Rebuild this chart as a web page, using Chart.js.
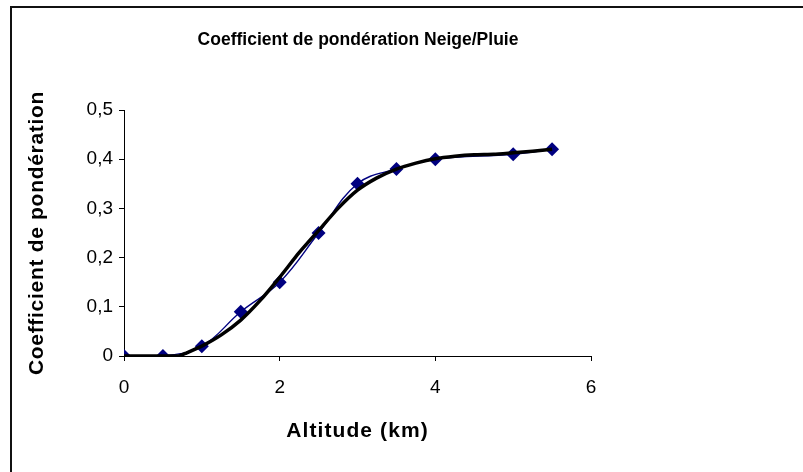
<!DOCTYPE html>
<html lang="fr">
<head>
<meta charset="utf-8">
<title>Coefficient de pondération Neige/Pluie</title>
<script src="https://cdn.jsdelivr.net/npm/chart.js@4/dist/chart.umd.min.js"></script>
<style>
  html, body { margin: 0; padding: 0; background: #fff; overflow: hidden; }
  #wrap { position: relative; width: 803px; height: 472px; }
  #frame { position: absolute; left: 10px; top: 6px; width: 900px; height: 600px;
           border-top: 2px solid #111; border-left: 2px solid #111; pointer-events: none; }
  canvas { position: absolute; left: 0; top: 0; }
</style>
</head>
<body>
<div id="wrap">
  <canvas id="c" width="803" height="472"></canvas>
  <div id="frame"></div>
</div>
<script>
// Measured points: altitude (km) and weighting coefficient
const altitudes = [0, 0.5, 1, 1.5, 2, 2.5, 3, 3.5, 4, 5, 5.5];
const coefficients = [0, 0, 0.02, 0.09, 0.15, 0.25, 0.35, 0.38, 0.40, 0.41, 0.42];

// Fitted curve
const fitAltitudes = [0, 0.25, 0.5, 0.7, 0.8, 1.0, 1.25, 1.5, 1.75, 2.0, 2.25, 2.5, 2.75, 3.0, 3.25, 3.5, 3.75, 4.0, 4.25, 4.5, 4.75, 5.0, 5.25, 5.5];
const fitCoefficients = [0, 0, 0, 0, 0.006, 0.02, 0.043, 0.073, 0.113, 0.16, 0.21, 0.255, 0.3, 0.337, 0.362, 0.38, 0.392, 0.401, 0.406, 0.409, 0.41, 0.413, 0.416, 0.42];

// Axis tick labels (French decimal comma)
const xTickLabels = ['0', '2', '4', '6'];
const yTickLabels = ['0', '0,1', '0,2', '0,3', '0,4', '0,5'];

const FONT = "'Liberation Sans', Arial, sans-serif";

const measured = altitudes.map((x, i) => ({ x, y: coefficients[i] }));
const fitted = fitAltitudes.map((x, i) => ({ x, y: fitCoefficients[i] }));

// Axis titles are drawn slightly letter-spaced
const titleSpacing = { x: '1.1px', y: '0.7px' };
const spacedAxisTitles = {
  id: 'spacedAxisTitles',
  afterLayout(chart) {
    Object.values(chart.scales).forEach((scale) => {
      if (scale._spacedTitle || !titleSpacing[scale.id]) return;
      const original = scale.drawTitle;
      scale.drawTitle = function () {
        const ctx = this.ctx;
        ctx.save();
        ctx.letterSpacing = titleSpacing[this.id];
        original.call(this);
        ctx.restore();
      };
      scale._spacedTitle = true;
    });
  }
};

new Chart(document.getElementById('c'), {
  type: 'line',
  plugins: [spacedAxisTitles],
  data: {
    datasets: [
      {
        label: 'Ajustement',
        data: fitted,
        borderColor: '#000',
        borderWidth: 3.5,
        pointRadius: 0,
        tension: 0.2,
        fill: false,
        order: 0
      },
      {
        label: 'Mesures',
        data: measured,
        borderColor: '#000080',
        backgroundColor: '#000080',
        borderWidth: 1.4,
        pointStyle: 'rectRot',
        pointRadius: 7,
        pointBorderWidth: 0,
        tension: 0.4,
        fill: false,
        order: 1
      }
    ]
  },
  options: {
    responsive: false,
    animation: false,
    layout: { padding: { left: 0, right: 87, top: 0, bottom: 0 } },
    plugins: {
      legend: { display: false },
      tooltip: { enabled: false },
      title: {
        display: true,
        text: 'Coefficient de pondération Neige/Pluie',
        color: '#000',
        font: { family: FONT, size: 17.5, weight: 'bold' },
        padding: { top: 29.5, bottom: 59.5 }
      }
    },
    scales: {
      x: {
        type: 'linear',
        min: 0,
        max: 6,
        ticks: {
          stepSize: 2,
          color: '#000',
          padding: 15,
          font: { family: FONT, size: 19 },
          callback: (v) => xTickLabels[Math.round(v / 2)]
        },
        grid: { drawOnChartArea: false, drawTicks: true, tickLength: 5, color: '#000', lineWidth: 1 },
        border: { display: true, color: '#000', width: 1 },
        title: {
          display: true,
          text: 'Altitude (km)',
          color: '#000',
          font: { family: FONT, size: 21, weight: 'bold' },
          padding: { top: 0, bottom: 28.4 }
        },
        afterFit: (s) => { s.height = 116; }
      },
      y: {
        min: 0,
        max: 0.5,
        ticks: {
          stepSize: 0.1,
          color: '#000',
          padding: 6,
          font: { family: FONT, size: 19 },
          callback: (v) => yTickLabels[Math.round(v * 10)]
        },
        grid: { drawOnChartArea: false, drawTicks: true, tickLength: 5, color: '#000', lineWidth: 1 },
        border: { display: true, color: '#000', width: 1 },
        title: {
          display: true,
          text: 'Coefficient de pondération',
          color: '#000',
          font: { family: FONT, size: 21, weight: 'bold' },
          padding: { top: 25, bottom: 0 }
        },
        afterFit: (s) => { s.width = 124; }
      },
      yRight: {
        position: 'right',
        min: 0,
        max: 1,
        display: true,
        grid: { display: false, drawTicks: false },
        border: { display: false },
        ticks: { display: false },
        afterFit: (s) => { s.width = 125; }
      }
    }
  }
});
</script>
</body>
</html>
